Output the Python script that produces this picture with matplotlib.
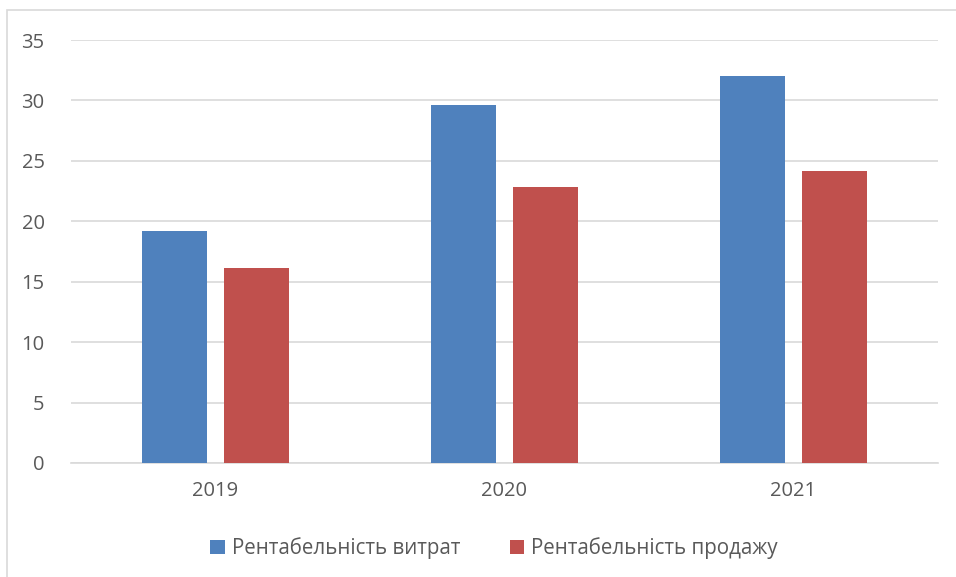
import numpy as np
import matplotlib.pyplot as plt
from matplotlib.patches import Rectangle

# data
years = ['2019', '2020', '2021']
cost_profit = [19.2, 29.6, 32.0]
sales_profit = [16.1, 22.8, 24.2]
labels = ['Рентабельність витрат', 'Рентабельність продажу']

plt.rcParams['font.family'] = ['Open Sans', 'DejaVu Sans']
text_col = '#595959'

fig = plt.figure(figsize=(9.56, 5.77), dpi=100)
ax = fig.add_axes([71/956, 1 - 463/577, (938 - 71)/956, (463 - 40)/577])

# outer chart frame (only top and left visible in the crop)
fig.patches.append(Rectangle((7/956, -0.1), 1.2, 1 - 10/577 + 0.1,
                             transform=fig.transFigure, fill=False,
                             edgecolor='#d9d9d9', linewidth=1.2))

x = np.arange(len(years))
w = 0.225
gap = 0.059
ax.bar(x - (w + gap)/2, cost_profit, w, color='#4F81BD', label=labels[0], zorder=3)
ax.bar(x + (w + gap)/2, sales_profit, w, color='#C0504D', label=labels[1], zorder=3)

ax.set_xlim(-0.5, 2.5)
ax.set_ylim(0, 35)
ax.set_yticks(range(0, 36, 5))
ax.set_xticks(x)
ax.set_xticklabels(years)
ax.grid(axis='y', color='#d9d9d9', linewidth=1.2, zorder=0)
for s in ['top', 'right', 'left']:
    ax.spines[s].set_visible(False)
ax.spines['bottom'].set_color('#d9d9d9')
ax.spines['bottom'].set_linewidth(1.2)
ax.tick_params(length=0, labelsize=14.5, labelcolor=text_col)
ax.tick_params(axis='y', pad=19)
ax.tick_params(axis='x', pad=13)

leg = fig.legend(loc='center', bbox_to_anchor=(494/956, 1 - 548/577), ncol=2,
                 frameon=False, fontsize=14.8, handlelength=0.7, handleheight=0.7,
                 handletextpad=0.35, columnspacing=2.4)
for t in leg.get_texts():
    t.set_color(text_col)

fig.savefig('out.png', dpi=100)
